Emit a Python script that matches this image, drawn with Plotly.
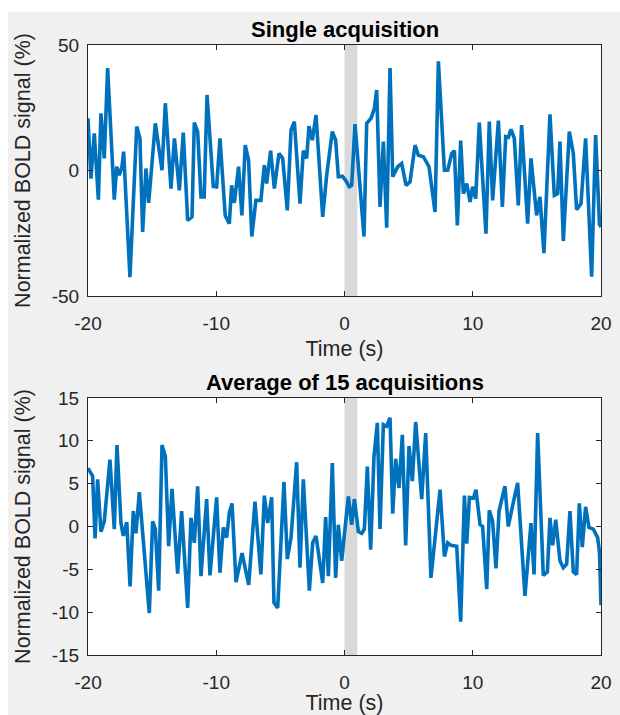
import plotly.graph_objects as go

# ---------------- data ----------------
t_single = [-20, -19.77, -19.51, -19.19, -18.99, -18.73, -18.47, -17.95, -17.76, -17.56,
            -17.35, -17.22, -16.73, -16.2, -15.95, -15.74, -15.48, -15.27, -14.75, -14.23,
            -13.97, -13.53, -13.26, -12.88, -12.57, -12.23, -11.89, -11.71, -11.45, -11.19,
            -10.94, -10.72, -10.23, -9.97, -9.71, -9.3, -8.98, -8.8, -8.59, -8.26,
            -8.0, -7.74, -7.48, -7.23, -6.91, -6.52, -6.25, -6.07, -5.76, -5.47,
            -5.11, -4.82, -4.46, -4.17, -3.91, -3.47, -3.21, -2.95, -2.77, -2.51,
            -2.22, -1.70, -1.39, -0.95, -0.69, -0.48, -0.17, 0.09, 0.38, 0.56,
            0.82, 1.13, 1.52, 1.73, 2.07, 2.33, 2.51, 2.77, 3.03, 3.29,
            3.55, 3.76, 4.15, 4.46, 4.80, 5.11, 5.50, 5.76, 6.15, 6.59,
            7.06, 7.32, 7.79, 8.05, 8.36, 8.57, 8.80, 9.06, 9.27, 9.53,
            9.79, 9.99, 10.23, 10.51, 11.03, 11.29, 11.55, 12.0, 12.31, 12.57,
            12.78, 12.98, 13.24, 13.55, 13.81, 14.28, 14.54, 14.98, 15.24, 15.55,
            16.02, 16.36, 16.62, 16.80, 17.06, 17.53, 17.84, 18.10, 18.44, 18.80,
            19.27, 19.58, 19.88, 20.0]
v_single = [20.8, -3.2, 14.8, -11.6, 22.8, 4.8, 40.8, -11.6, 1.5, -1.9,
            1.5, 7.5, -42.5, 17.5, 12.8, -24.5, 0.8, -12.9, 18.8, 0.1,
            26.8, -7.2, 12.8, -7.9, 15.1, -19.9, -18.5, 19.1, 15.5, -10.5,
            -10.5, 30.1, -6.3, -6.5, 12.8, -17.9, -21.2, -5.9, -12.9, 1.5,
            -17.9, 10.1, 4.1, -26.3, -11.9, -11.9, 2.1, -5.2, 7.9, -7.2,
            6.8, 4.8, -15.9, 16.1, 19.5, -13.2, 7.9, 4.8, 17.7, 12.1,
            22.1, -18.5, -1.9, 15.5, 12.1, -2.5, -2.3, -3.9, -6.5, -5.9,
            18.5, -2.5, -26.3, 18.8, 20.8, 24.8, 32.1, -14.5, 11.5, -22.8,
            40.8, -2.5, 1.5, 2.8, -5.9, -4.5, 10.1, 6.1, 5.5, 1.5,
            -16.5, 43.5, 0.1, 0.1, 6.8, 7.9, -21.9, 11.9, -9.2, -5.2,
            -12.5, -6.5, -11.2, 19.1, -25.2, 19.5, -11.9, 19.9, -14.5, 13.5,
            13.2, 16.4, 12.8, -13.9, 18.1, -21.2, 4.8, -17.9, -10.5, -32.9,
            22.4, -9.9, -9.2, 11.5, -28.1, 15.5, 6.8, -15.6, -13.2, 12.8,
            -42.3, 14.1, -21.5, -22.5]

t_avg = [-20, -19.64, -19.45, -19.25, -18.99, -18.73, -18.29, -17.95, -17.74, -17.43,
         -17.25, -16.98, -16.72, -16.47, -16.26, -16.0, -15.22, -14.96, -14.75, -14.49,
         -14.23, -13.97, -13.71, -13.45, -13.01, -12.70, -12.23, -11.97, -11.71, -11.45,
         -11.19, -10.75, -10.49, -9.97, -9.71, -9.45, -9.19, -8.98, -8.77, -8.46,
         -7.99, -7.47, -6.98, -6.52, -6.25, -5.99, -5.68, -5.50, -5.21, -4.72,
         -4.46, -4.17, -3.73, -3.47, -3.21, -2.74, -2.48, -2.22, -1.70, -1.47,
         -1.26, -0.95, -0.69, -0.48, -0.22, 0.30, 0.56, 0.77, 1.08, 1.34,
         1.55, 1.78, 2.04, 2.30, 2.56, 2.77, 3.03, 3.29, 3.55, 3.76,
         3.99, 4.25, 4.51, 4.77, 5.03, 5.29, 5.55, 6.02, 6.33, 6.74,
         7.45, 7.79, 8.05, 8.31, 8.75, 9.06, 9.35, 9.53, 9.74, 10.05,
         10.25, 10.57, 10.77, 11.09, 11.29, 11.55, 11.81, 12.05, 12.51, 12.77,
         13.16, 13.50, 14.07, 14.54, 14.78, 15.06, 15.50, 15.82, 16.02, 16.23,
         16.47, 16.80, 17.06, 17.32, 17.58, 17.84, 18.10, 18.31, 18.54, 18.80,
         19.06, 19.40, 19.74, 19.88, 20.0]
v_avg = [6.8, 5.9, -1.4, 5.5, -0.6, 0.6, 7.8, -0.3, 9.5, 0.4,
         -1.1, 0.5, -7.0, 1.8, -0.8, 4.0, -10.1, 0.6, -0.3, -7.5,
         9.5, 8.2, -2.3, 4.4, -5.5, 1.8, -9.5, 1.0, -1.9, 4.7,
         -5.8, 3.2, -5.7, 3.4, -5.4, -0.1, -1.3, 1.6, 2.7, -6.5,
         -3.1, -6.8, 2.9, -5.6, 3.6, 0.4, 3.4, -8.9, -9.5, 5.2,
         -3.8, -1.3, 7.5, -4.8, 5.5, -7.5, -1.9, -1.1, -6.6, 1.1,
         -5.8, 7.4, -6.0, 0.2, -4.0, 3.5, 0.2, 3.2, -0.6, -0.8,
         -0.3, 7.0, -2.7, 8.2, 12.1, -0.3, 11.9, 11.7, 12.7, 1.5,
         7.9, 4.5, 10.7, -2.2, 9.4, 5.3, 12.2, 3.2, 10.9, -6.0,
         4.3, -3.5, -1.9, -2.2, -2.3, -11.1, 3.6, -2.0, 3.4, 3.3,
         4.3, 0.2, 0.0, -7.3, 1.9, 0.6, -4.9, 1.8, 4.7, 0.0,
         2.8, 5.1, -8.1, 0.4, -5.6, 10.9, -5.7, -5.3, 1.0, -2.2,
         0.8, -4.0, -4.8, -4.4, 1.8, -5.3, -5.6, 2.7, -2.4, 2.3,
         -0.1, -0.3, -1.3, -3.0, -9.2]

stim_window = [0, 1]          # grey stimulus band (s)
x_ticks = [-20, -10, 0, 10, 20]
x_tick_text = ["-20", "-10", "0", "10", "20"]
y_ticks_single = [-50, 0, 50]
y_tick_text_single = ["-50", "0", "50"]
y_ticks_avg = [-15, -10, -5, 0, 5, 10, 15]
y_tick_text_avg = ["-15", "-10", "-5", "0", "5", "10", "15"]
titles = ["Single acquisition", "Average of 15 acquisitions"]
x_label = "Time (s)"
y_label = "Normalized BOLD signal (%)"

# ---------------- figure ----------------
FONT = "Liberation Sans, Arial, Helvetica, sans-serif"
AX = "#262626"
BLUE = "#0072BD"
W, H = 620, 715
ML, MR, MT, MB = 88, 19, 45, 60

fig = go.Figure()
fig.add_trace(go.Scatter(x=t_single, y=v_single, mode="lines",
                         line=dict(color=BLUE, width=3.6), xaxis="x", yaxis="y",
                         showlegend=False, hoverinfo="skip"))
fig.add_trace(go.Scatter(x=t_avg, y=v_avg, mode="lines",
                         line=dict(color=BLUE, width=3.6), xaxis="x2", yaxis="y2",
                         showlegend=False, hoverinfo="skip"))

def xax(anchor):
    return dict(range=[-20, 20], tickvals=x_ticks, ticktext=x_tick_text,
                showgrid=False, zeroline=False, automargin=False,
                showline=True, linecolor=AX, linewidth=1, mirror="ticks",
                ticks="inside", ticklen=5, tickcolor=AX, ticklabelstandoff=10,
                tickfont=dict(family=FONT, size=19, color=AX),
                title=dict(text=x_label, font=dict(family=FONT, size=21.5, color=AX), standoff=8),
                anchor=anchor, fixedrange=True)

def yax(rng, tv, tt, dom, anchor):
    return dict(range=rng, tickvals=tv, ticktext=tt, domain=dom,
                showgrid=False, zeroline=False, automargin=False,
                showline=True, linecolor=AX, linewidth=1, mirror="ticks",
                ticks="inside", ticklen=5, tickcolor=AX, ticklabelstandoff=4,
                tickfont=dict(family=FONT, size=19, color=AX),
                title=dict(text=y_label, font=dict(family=FONT, size=21.5, color=AX), standoff=15),
                anchor=anchor, fixedrange=True)

fig.update_layout(
    width=W, height=H,
    margin=dict(l=ML, r=MR, t=MT, b=MB, autoexpand=False),
    paper_bgcolor="#f0f0f0", plot_bgcolor="white",
    xaxis=xax("y"),
    yaxis=yax([-50, 50], y_ticks_single, y_tick_text_single, [0.5885, 1.0], "x"),
    xaxis2=xax("y2"),
    yaxis2=yax([-15, 15], y_ticks_avg, y_tick_text_avg, [0.0, 0.4213], "x2"),
    font=dict(family=FONT, color=AX),
)

# stimulus bands
for xr, yr in (("x", "y domain"), ("x2", "y2 domain")):
    fig.add_shape(type="rect", xref=xr, yref=yr, x0=stim_window[0], x1=stim_window[1],
                  y0=0, y1=1, fillcolor="#d9d9d9", line=dict(width=0), layer="below")

# white border strips (top ~12 px, left ~8 px) of the original screenshot
pw, ph = W - ML - MR, H - MT - MB
fig.add_shape(type="rect", xref="paper", yref="paper",
              x0=-ML / pw, x1=(W - ML) / pw, y0=(H - MB - 12) / ph, y1=(H - MB) / ph,
              fillcolor="white", line=dict(width=0), layer="below")
fig.add_shape(type="rect", xref="paper", yref="paper",
              x0=-ML / pw, x1=(8 - ML) / pw, y0=-MB / ph, y1=(H - MB) / ph,
              fillcolor="white", line=dict(width=0), layer="below")

# subplot titles
for i, xr in enumerate(("x domain", "x2 domain")):
    fig.add_annotation(text="<b>" + titles[i] + "</b>", xref=xr,
                       yref=("y domain" if i == 0 else "y2 domain"),
                       x=0.5, y=1, yanchor="bottom", showarrow=False, yshift=1,
                       font=dict(family=FONT, size=22, color="black"))

fig.write_html("out.html", config={"displayModeBar": False},
               post_script="document.body.style.margin='0';document.body.style.overflow='hidden';")
